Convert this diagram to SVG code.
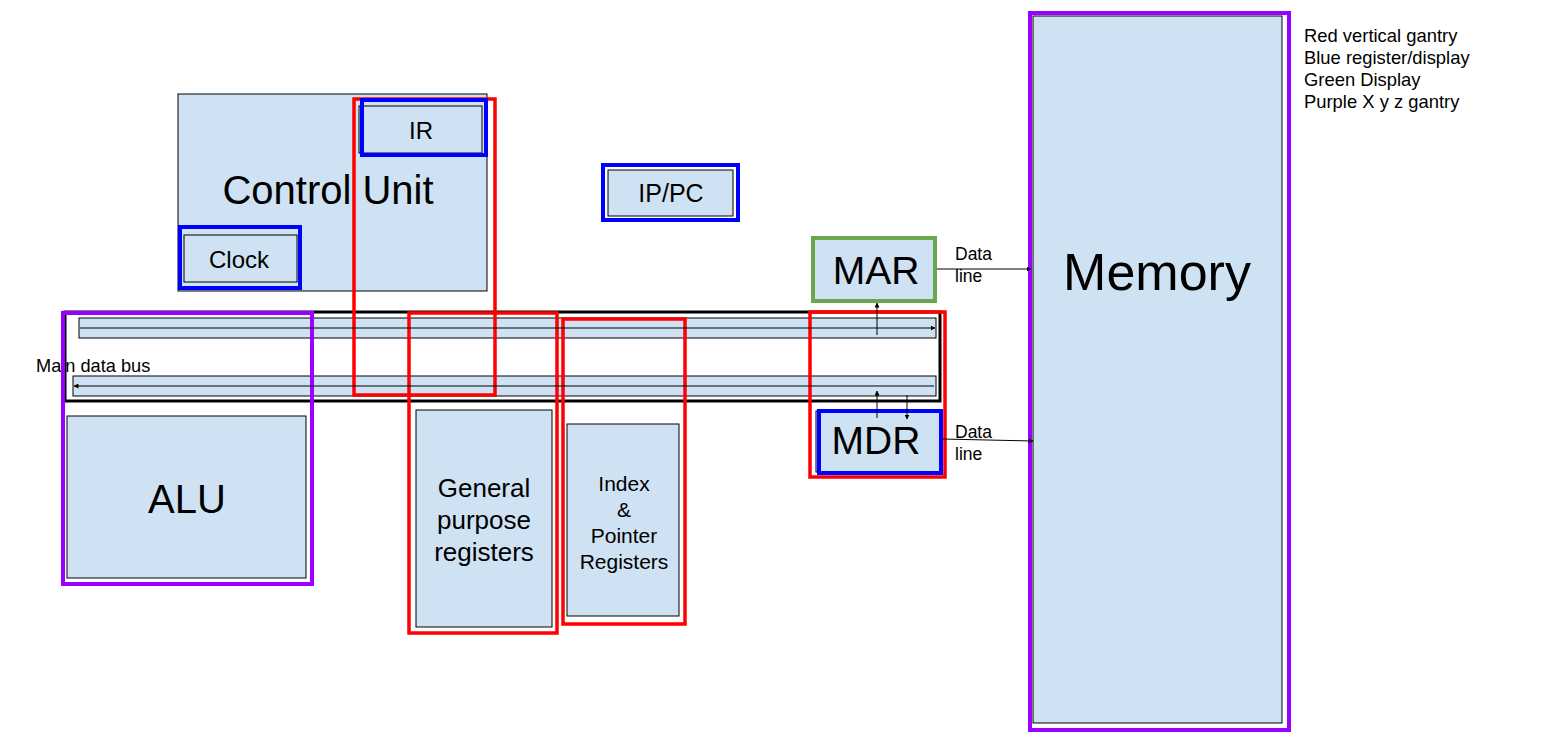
<svg xmlns="http://www.w3.org/2000/svg" width="1544" height="747" viewBox="0 0 1544 747">
<style>
text{font-family:"Liberation Sans",Arial,sans-serif;fill:#000}
.box{fill:#cfe2f3;stroke:#000;stroke-width:1}
.red{fill:none;stroke:#ff0000;stroke-width:3.5}
.blue{fill:none;stroke:#0000ff;stroke-width:4}
.purple{fill:none;stroke:#9900ff;stroke-width:4}
.green{fill:none;stroke:#6aa84f;stroke-width:4}
.wire{fill:none;stroke:#000;stroke-width:1}
.c{text-anchor:middle}
</style>
<defs>
<marker id="ah" viewBox="0 0 10 10" refX="9" refY="5" markerWidth="5" markerHeight="5" orient="auto" markerUnits="userSpaceOnUse">
<path d="M0,0 L10,5 L0,10 z" fill="#000"/>
</marker>
</defs>
<rect width="1544" height="747" fill="#fff"/>

<g id="control-unit">
<rect class="box" x="178" y="94" width="309" height="197"/>
<text x="328" y="204" class="c" font-size="40">Control Unit</text>
</g>
<g id="clock">
<rect class="box" x="184" y="235" width="113" height="47"/>
<text x="239" y="268" class="c" font-size="24">Clock</text>
<rect class="blue" x="180" y="227" width="120" height="61"/>
</g>

<g id="bus">
<rect x="65" y="312" width="875" height="89" fill="#fff" stroke="#000" stroke-width="3"/>
<rect class="box" x="79" y="318" width="857" height="20"/>
<rect class="box" x="73" y="376" width="863" height="20"/>
<text x="36" y="372" font-size="18.2">Main data bus</text>
</g>

<g id="ir">
<rect class="box" x="359" y="106" width="123" height="47"/>
<text x="421" y="139" class="c" font-size="24">IR</text>
</g>
<g id="ir-gantry">
<rect class="red" x="354" y="99" width="141" height="296"/>
<rect class="blue" x="362" y="100" width="124" height="55"/>
</g>

<g id="ip-pc">
<rect class="box" x="608" y="170" width="125" height="46"/>
<text x="671" y="202" class="c" font-size="25">IP/PC</text>
<rect class="blue" x="603" y="165" width="135" height="55"/>
</g>

<g id="mar">
<rect class="box" x="813" y="238" width="122" height="63"/>
<text x="876" y="284" class="c" font-size="39">MAR</text>
<rect class="green" x="813" y="238" width="122" height="63"/>
</g>

<g id="mdr">
<rect class="box" x="816" y="411" width="124" height="61"/>
<text x="876" y="454" class="c" font-size="39">MDR</text>
<rect class="blue" x="819" y="411" width="122" height="62"/>
</g>
<g id="mdr-gantry">
<rect class="red" x="810" y="312" width="135" height="165"/>
</g>

<g id="alu">
<rect class="box" x="67" y="416" width="239" height="162"/>
<text x="187" y="513" class="c" font-size="40">ALU</text>
<rect class="purple" x="63" y="313" width="249" height="271"/>
</g>

<g id="gpr">
<rect class="box" x="416" y="410" width="136" height="217"/>
<text class="c" font-size="26"><tspan x="484" y="497">General</tspan><tspan x="484" y="529">purpose</tspan><tspan x="484" y="561">registers</tspan></text>
<rect class="red" x="409" y="313" width="148" height="320"/>
</g>

<g id="index-pointer">
<rect class="box" x="567" y="424" width="112" height="192"/>
<text class="c" font-size="21"><tspan x="624" y="491">Index</tspan><tspan x="624" y="517">&amp;</tspan><tspan x="624" y="543">Pointer</tspan><tspan x="624" y="569">Registers</tspan></text>
<rect class="red" x="563" y="319" width="122" height="305"/>
</g>

<g id="memory">
<rect class="box" x="1033" y="16" width="249" height="707"/>
<text x="1157" y="290" class="c" font-size="52">Memory</text>
<rect class="purple" x="1030" y="13" width="259" height="717"/>
</g>

<g id="connectors">
<line class="wire" x1="80" y1="328" x2="935" y2="328" marker-end="url(#ah)"/>
<line class="wire" x1="934" y1="386" x2="74" y2="386" marker-end="url(#ah)"/>
<line class="wire" x1="877" y1="335" x2="877" y2="303" marker-end="url(#ah)"/>
<line class="wire" x1="877" y1="418" x2="877" y2="391" marker-end="url(#ah)"/>
<line class="wire" x1="907" y1="395" x2="907" y2="419" marker-end="url(#ah)"/>
<line class="wire" x1="937" y1="269" x2="1031" y2="269" marker-end="url(#ah)"/>
<line class="wire" x1="942" y1="439" x2="1033" y2="441" marker-end="url(#ah)"/>
</g>

<g id="labels">
<text x="955" y="260" font-size="17.5">Data</text>
<text x="955" y="282" font-size="17.5">line</text>
<text x="955" y="438" font-size="17.5">Data</text>
<text x="955" y="460" font-size="17.5">line</text>
</g>

<g id="legend">
<text x="1304" y="42" font-size="18.4">Red vertical gantry</text>
<text x="1304" y="64" font-size="18.4">Blue register/display</text>
<text x="1304" y="86" font-size="18.4">Green Display</text>
<text x="1304" y="108" font-size="18.4">Purple X y z gantry</text>
</g>
</svg>
